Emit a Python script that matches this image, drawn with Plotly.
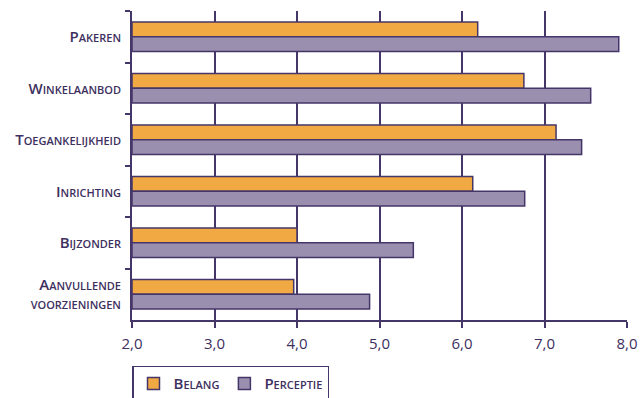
import plotly.graph_objects as go

categories = ["Pakeren", "Winkelaanbod", "Toegankelijkheid", "Inrichting", "Bijzonder",
              "Aanvullende<br>voorzieningen"]
belang = [6.19, 6.75, 7.14, 6.13, 4.00, 3.96]
perceptie = [7.90, 7.56, 7.45, 6.76, 5.41, 4.88]
x_ticks = [2, 3, 4, 5, 6, 7, 8]

DARK = "#45366a"
TXT = "#3d2f5e"
ORANGE = "#f1a943"
PURPLE = "#9a8fae"

fig = go.Figure()
fig.add_trace(go.Bar(y=categories, x=[v - 2 for v in belang], base=2, orientation="h",
                     name="Belang", marker=dict(color=ORANGE, line=dict(color=DARK, width=1.5))))
fig.add_trace(go.Bar(y=categories, x=[v - 2 for v in perceptie], base=2, orientation="h",
                     name="Perceptie", marker=dict(color=PURPLE, line=dict(color=DARK, width=1.5))))

fig.update_layout(
    width=641, height=398,
    margin=dict(l=132, r=14, t=11, b=78, autoexpand=False),
    barmode="group", bargap=0.43, bargroupgap=0,
    plot_bgcolor="white", paper_bgcolor="white",
    separators=",.",
    font=dict(family="Open Sans", color=TXT),
    xaxis=dict(range=[2, 8], tickvals=x_ticks, tickformat=".1f",
               showgrid=True, gridcolor=DARK, gridwidth=1.5,
               showline=True, linecolor=DARK, linewidth=2,
               ticks="outside", ticklen=6, tickcolor=DARK, tickwidth=2,
               ticklabelstandoff=3,
               tickfont=dict(size=15, color=TXT, family="Open Sans"),
               zeroline=False, layer="below traces"),
    yaxis=dict(autorange="reversed", showgrid=False,
               showline=True, linecolor=DARK, linewidth=2,
               ticks="outside", tickson="boundaries", ticklen=5, tickcolor=DARK, tickwidth=2,
               ticklabelstandoff=6,
               tickfont=dict(size=15, color=TXT, family="Open Sans", variant="small-caps",
                             weight=600)),
    legend=dict(orientation="h", x=0.0, xanchor="left", y=-0.148, yanchor="top",
                bordercolor=DARK, borderwidth=1.5, bgcolor="white",
                font=dict(size=15, color=TXT, family="Open Sans", variant="small-caps", weight=600),
                itemwidth=30, tracegroupgap=0),
)

fig.write_html("out.html")
